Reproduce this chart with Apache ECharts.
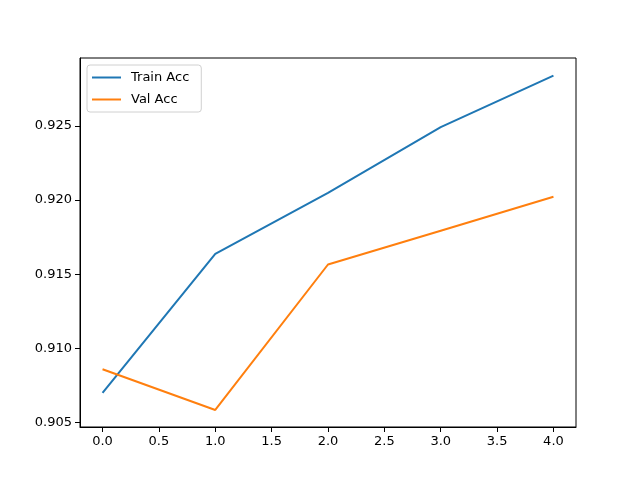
<!DOCTYPE html>
<html>
<head>
<meta charset="utf-8">
<script src="https://cdn.jsdelivr.net/npm/echarts@6/dist/echarts.min.js"></script>
<style>
  html, body { margin: 0; padding: 0; background: #fff; }
  #chart { width: 640px; height: 480px; }
</style>
</head>
<body>
<div id="chart"></div>
<script>
// epochs and accuracies
const epochs = [0, 1, 2, 3, 4];
const trainAcc = [0.90698, 0.91637, 0.92049, 0.92492, 0.92840];
const valAcc = [0.90858, 0.90583, 0.91565, 0.91793, 0.92022];
const xTicks = [0, 0.5, 1, 1.5, 2, 2.5, 3, 3.5, 4];
const yTicks = [0.905, 0.910, 0.915, 0.920, 0.925];

const font = 'DejaVu Sans';
const toPairs = (ys) => epochs.map((x, i) => [x, ys[i]]);

const chart = echarts.init(document.getElementById('chart'));
chart.setOption({
    animation: false,
    textStyle: { fontFamily: font },
    grid: {
        left: 80, right: 64, top: 58, bottom: 53,
        show: true, borderColor: '#000', borderWidth: 1, backgroundColor: '#fff'
    },
    legend: {
        orient: 'vertical',
        left: 87, top: 65,
        itemWidth: 29, itemHeight: 2, itemGap: 9,
        icon: 'rect',
        backgroundColor: '#fff',
        borderColor: '#d0d0d0', borderWidth: 1, borderRadius: 3,
        padding: [6, 12, 6, 5],
        textStyle: { fontFamily: font, fontSize: 13, color: '#000', padding: [0, 0, 0, 5] },
        data: ['Train Acc', 'Val Acc']
    },
    xAxis: {
        type: 'value',
        min: -0.2, max: 4.2,
        axisLine: { show: true, onZero: false, lineStyle: { color: '#000' } },
        axisTick: { show: true, length: 5, customValues: xTicks, lineStyle: { color: '#000' } },
        axisLabel: {
            customValues: xTicks, color: '#000', fontSize: 13, margin: 8,
            formatter: (v) => v.toFixed(1)
        },
        splitLine: { show: false }
    },
    yAxis: {
        type: 'value',
        min: 0.90468, max: 0.92959,
        axisLine: { show: true, onZero: false, lineStyle: { color: '#000' } },
        axisTick: { show: true, length: 5, customValues: yTicks, lineStyle: { color: '#000' } },
        axisLabel: {
            customValues: yTicks, color: '#000', fontSize: 13, margin: 8,
            formatter: (v) => v.toFixed(3)
        },
        splitLine: { show: false }
    },
    series: [
        {
            name: 'Train Acc', type: 'line', data: toPairs(trainAcc),
            symbol: 'none', color: '#1f77b4', lineStyle: { width: 2 }
        },
        {
            name: 'Val Acc', type: 'line', data: toPairs(valAcc),
            symbol: 'none', color: '#ff7f0e', lineStyle: { width: 2 }
        }
    ]
});
</script>
</body>
</html>
